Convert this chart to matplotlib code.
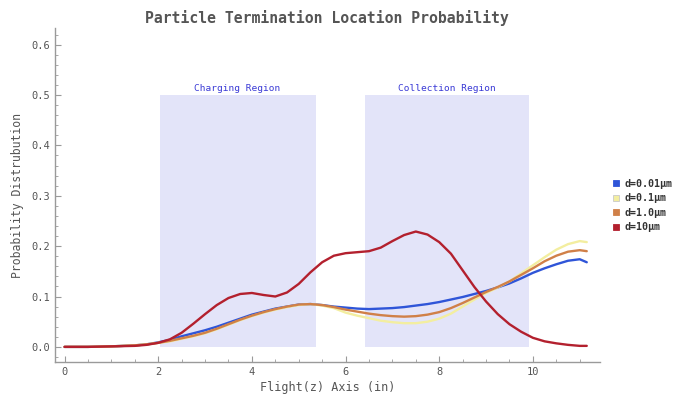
import matplotlib
matplotlib.use("Agg")
import matplotlib.pyplot as plt
from matplotlib.lines import Line2D
from matplotlib.ticker import MultipleLocator

x = [0, 0.5, 1.0, 1.5, 1.75, 2.0, 2.25, 2.5, 2.75, 3.0, 3.25, 3.5, 3.75, 4.0, 4.25, 4.5,
     4.75, 5.0, 5.25, 5.5, 5.75, 6.0, 6.25, 6.5, 6.75, 7.0, 7.25, 7.5, 7.75, 8.0, 8.25,
     8.5, 8.75, 9.0, 9.25, 9.5, 9.75, 10.0, 10.25, 10.5, 10.75, 11.0, 11.15]

d001 = [0, 0, 0.001, 0.003, 0.005, 0.009, 0.014, 0.021, 0.027, 0.033, 0.040, 0.048, 0.056,
        0.064, 0.070, 0.076, 0.080, 0.084, 0.085, 0.083, 0.080, 0.078, 0.076, 0.075, 0.076,
        0.077, 0.079, 0.082, 0.085, 0.089, 0.094, 0.099, 0.105, 0.111, 0.118, 0.126, 0.136,
        0.147, 0.156, 0.164, 0.171, 0.174, 0.168]
d01 = [0, 0, 0.001, 0.003, 0.005, 0.008, 0.011, 0.016, 0.021, 0.027, 0.035, 0.044, 0.053,
       0.061, 0.068, 0.074, 0.079, 0.083, 0.085, 0.082, 0.077, 0.068, 0.062, 0.057, 0.052,
       0.049, 0.047, 0.047, 0.050, 0.056, 0.066, 0.080, 0.094, 0.107, 0.118, 0.130, 0.146,
       0.162, 0.178, 0.193, 0.204, 0.210, 0.208]
d10 = [0, 0, 0.001, 0.003, 0.005, 0.008, 0.012, 0.017, 0.022, 0.028, 0.036, 0.045, 0.054,
       0.062, 0.069, 0.075, 0.080, 0.084, 0.085, 0.083, 0.079, 0.074, 0.070, 0.066, 0.063,
       0.061, 0.060, 0.061, 0.064, 0.069, 0.077, 0.087, 0.098, 0.109, 0.119, 0.130, 0.143,
       0.156, 0.170, 0.181, 0.189, 0.192, 0.190]
d100 = [0, 0, 0.001, 0.002, 0.004, 0.008, 0.015, 0.028, 0.046, 0.065, 0.083, 0.097, 0.105,
        0.107, 0.103, 0.100, 0.108, 0.125, 0.148, 0.168, 0.181, 0.186, 0.188, 0.190, 0.197,
        0.210, 0.222, 0.229, 0.223, 0.208, 0.185, 0.152, 0.119, 0.090, 0.065, 0.045, 0.030,
        0.018, 0.011, 0.007, 0.004, 0.002, 0.002]

labels = ["d=0.01\u03bcm", "d=0.1\u03bcm", "d=1.0\u03bcm", "d=10\u03bcm"]
colors = ["#2f55d8", "#f3eea0", "#d08048", "#b3202e"]
series = [d001, d01, d10, d100]

regions = [("Charging Region", 2.03, 5.36), ("Collection Region", 6.41, 9.91)]
region_top = 0.5

fig = plt.figure(figsize=(6.84, 3.98), dpi=100)
ax = fig.add_axes([0.080, 0.0905, 0.797, 0.839])

for name, a, b in regions:
    ax.fill_between([a, b], 0, region_top, color="#e3e4f9", lw=0, zorder=0)
    ax.text((a + b) / 2, region_top + 0.004, name, ha="center", va="bottom",
            fontsize=6.8, color="#3b3bd6", family="DejaVu Sans Mono")

for ys, c in zip(series, colors):
    ax.plot(x, ys, color=c, lw=1.7, solid_capstyle="round", solid_joinstyle="round",
            zorder=3)

ax.set_xlim(-0.21, 11.43)
ax.set_ylim(-0.03, 0.633)
ax.xaxis.set_minor_locator(MultipleLocator(0.5))
ax.yaxis.set_minor_locator(MultipleLocator(0.02))
ax.set_xticks([0, 2, 4, 6, 8, 10])
ax.set_xticklabels(["0", "2", "4", "6", "8", "10"])
ax.set_yticks([0.0, 0.1, 0.2, 0.3, 0.4, 0.5, 0.6])
ax.set_yticklabels(["0.0", "0.1", "0.2", "0.3", "0.4", "0.5", "0.6"])

for s in ["top", "right"]:
    ax.spines[s].set_visible(False)
for s in ["left", "bottom"]:
    ax.spines[s].set_color("#9a9a9a")
    ax.spines[s].set_linewidth(1.0)
ax.tick_params(which="major", direction="in", length=4, color="#9a9a9a",
               labelsize=7.5, labelcolor="#555555")
ax.tick_params(which="minor", direction="in", length=2, color="#9a9a9a")
for t in ax.get_xticklabels() + ax.get_yticklabels():
    t.set_family("DejaVu Sans Mono")

ax.set_xlabel("Flight(z) Axis (in)", fontsize=8.5, color="#555555",
              family="DejaVu Sans Mono", labelpad=3)
ax.set_ylabel("Probability Distrubution", fontsize=8.3, color="#555555",
              family="DejaVu Sans Mono", labelpad=5)
ax.set_title("Particle Termination Location Probability", fontsize=10.6,
             color="#555555", family="DejaVu Sans Mono", fontweight="bold", pad=4)

handles = [Line2D([], [], marker="s", ls="none", markersize=5, markerfacecolor=c,
                  markeredgecolor="#c9c9c9" if c == "#f3eea0" else c, markeredgewidth=0.6)
           for c in colors]
leg = fig.legend(handles, labels, loc="upper left", bbox_to_anchor=(0.882, 0.574),
                 frameon=False, handlelength=0.8, handletextpad=0.4, labelspacing=0.45,
                 prop={"family": "DejaVu Sans Mono", "weight": "bold", "size": 7.2})
for t in leg.get_texts():
    t.set_color("#333333")

fig.savefig("out.png", dpi=100)
